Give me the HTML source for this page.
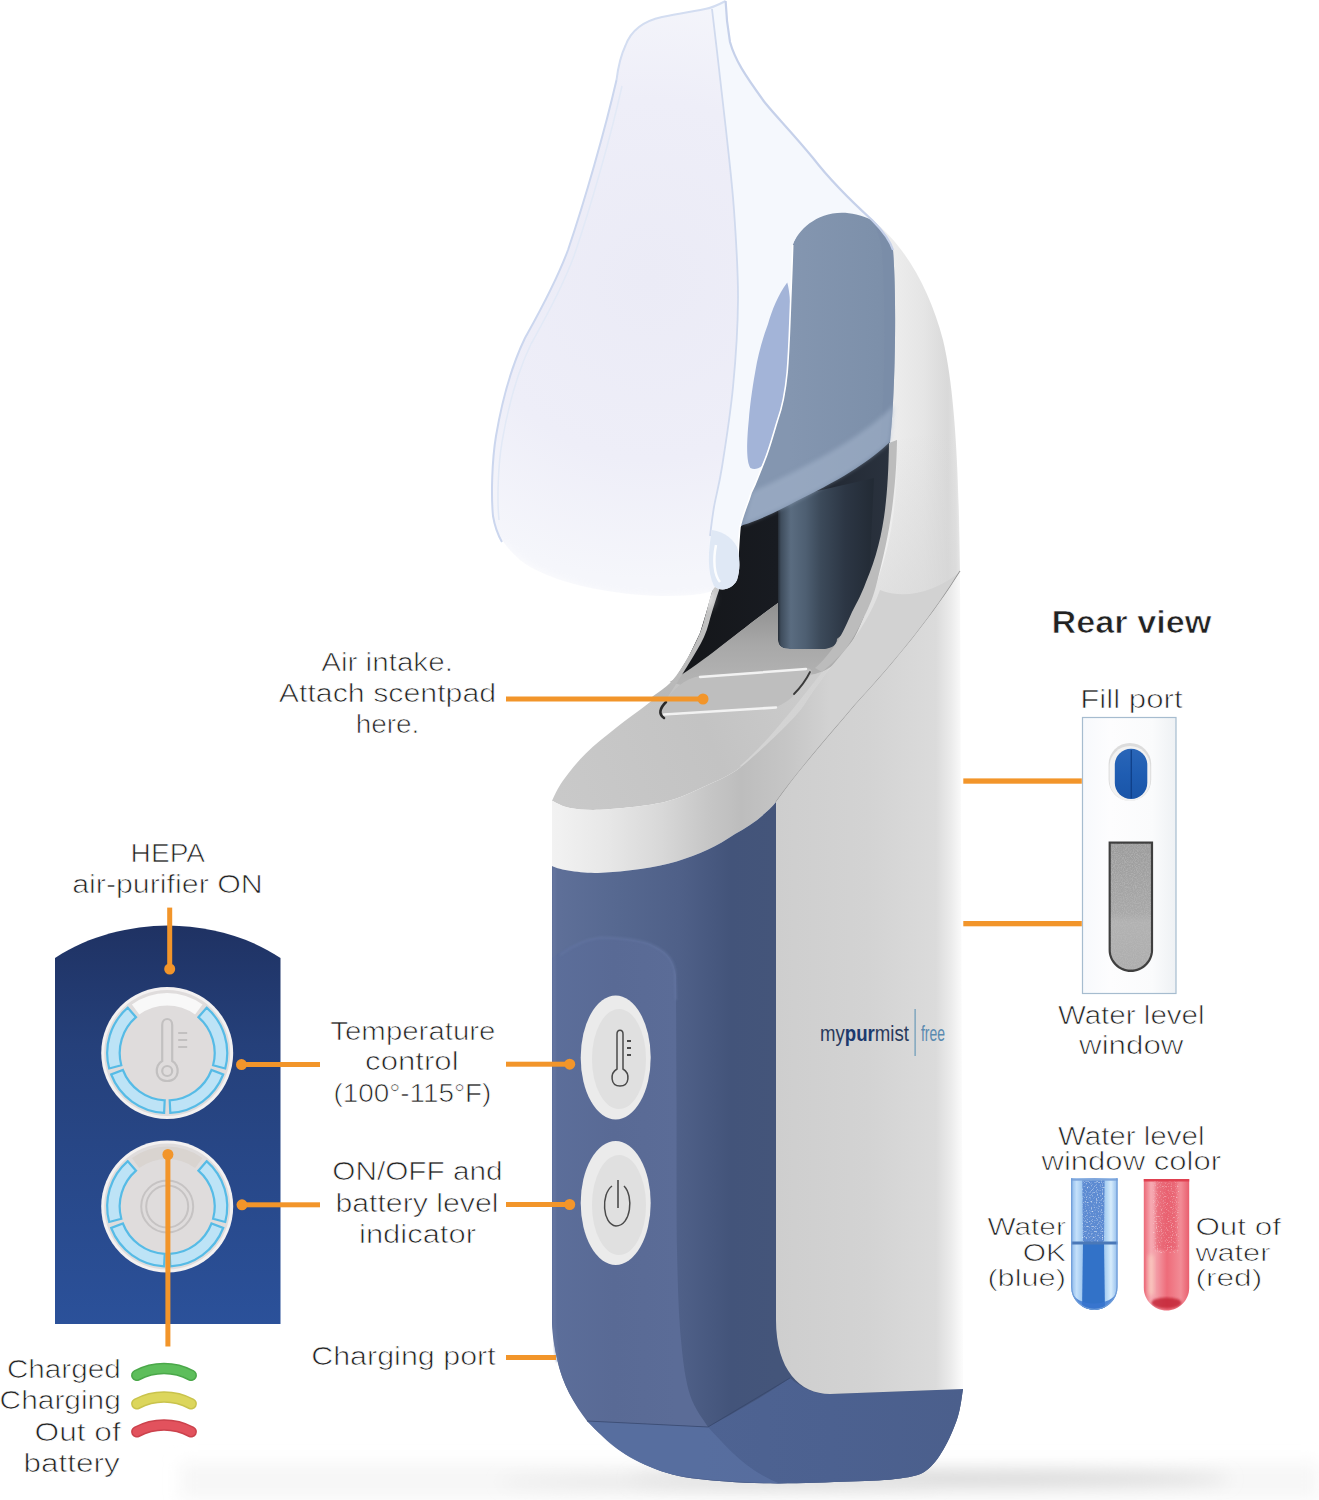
<!DOCTYPE html>
<html><head><meta charset="utf-8">
<style>
html,body{margin:0;padding:0;background:#fff;width:1319px;height:1500px;overflow:hidden}
svg{position:absolute;left:0;top:0;display:block}
.t{font-family:"Liberation Sans",sans-serif;font-size:25px;fill:#222;stroke:#fff;stroke-width:0.7px}
</style></head><body>
<svg width="1319" height="1500" viewBox="0 0 1319 1500">
<defs>
  <filter id="b1" x="-10%" y="-10%" width="120%" height="120%"><feGaussianBlur stdDeviation="1"/></filter>
  <filter id="b2" x="-20%" y="-20%" width="140%" height="140%"><feGaussianBlur stdDeviation="2"/></filter>
  <filter id="b4" x="-30%" y="-30%" width="160%" height="160%"><feGaussianBlur stdDeviation="4"/></filter>
  <filter id="b8" x="-30%" y="-100%" width="160%" height="300%"><feGaussianBlur stdDeviation="8"/></filter>
  <filter id="b15" x="-50%" y="-50%" width="200%" height="200%"><feGaussianBlur stdDeviation="15"/></filter>
  <linearGradient id="gShell" x1="776" y1="0" x2="962" y2="0" gradientUnits="userSpaceOnUse">
    <stop offset="0" stop-color="#cecece"/>
    <stop offset="0.5" stop-color="#d3d3d3"/>
    <stop offset="0.86" stop-color="#dbdbdb"/>
    <stop offset="0.94" stop-color="#ebebeb"/>
    <stop offset="1" stop-color="#fbfbfb"/>
  </linearGradient>
  <linearGradient id="gCapUp" x1="800" y1="0" x2="960" y2="0" gradientUnits="userSpaceOnUse">
    <stop offset="0" stop-color="#d8d8d8"/>
    <stop offset="0.5" stop-color="#e6e6e6"/>
    <stop offset="0.85" stop-color="#dadada"/>
    <stop offset="0.95" stop-color="#e2e2e2"/>
    <stop offset="1" stop-color="#f3f3f3"/>
  </linearGradient>
  <linearGradient id="gBlue" x1="552" y1="0" x2="776" y2="0" gradientUnits="userSpaceOnUse">
    <stop offset="0" stop-color="#5f7099"/>
    <stop offset="0.3" stop-color="#566890"/>
    <stop offset="0.57" stop-color="#4f6088"/>
    <stop offset="0.8" stop-color="#43547a"/>
    <stop offset="1" stop-color="#44557a"/>
  </linearGradient>
  <linearGradient id="gFace" x1="552" y1="0" x2="676" y2="0" gradientUnits="userSpaceOnUse">
    <stop offset="0" stop-color="#5c6e9a"/>
    <stop offset="0.5" stop-color="#596a95"/>
    <stop offset="1" stop-color="#5b6c97"/>
  </linearGradient>
  <linearGradient id="gBlueBot" x1="700" y1="0" x2="963" y2="0" gradientUnits="userSpaceOnUse">
    <stop offset="0" stop-color="#4e6392"/>
    <stop offset="0.5" stop-color="#4c6190"/>
    <stop offset="1" stop-color="#4b5f8c"/>
  </linearGradient>
  <linearGradient id="gBand" x1="553" y1="0" x2="830" y2="0" gradientUnits="userSpaceOnUse">
    <stop offset="0" stop-color="#f2f2f2"/>
    <stop offset="0.2" stop-color="#e7e7e7"/>
    <stop offset="0.39" stop-color="#d8d8d8"/>
    <stop offset="0.56" stop-color="#c6c6c6"/>
    <stop offset="0.68" stop-color="#bdbdbd"/>
    <stop offset="0.85" stop-color="#c6c6c6"/>
    <stop offset="1" stop-color="#d2d2d2"/>
  </linearGradient>
  <linearGradient id="gTop" x1="560" y1="800" x2="860" y2="680" gradientUnits="userSpaceOnUse">
    <stop offset="0" stop-color="#c9c9c9"/>
    <stop offset="0.5" stop-color="#c3c3c3"/>
    <stop offset="1" stop-color="#cfcfcf"/>
  </linearGradient>
  <linearGradient id="gTube" x1="776" y1="0" x2="875" y2="0" gradientUnits="userSpaceOnUse">
    <stop offset="0" stop-color="#14171c"/>
    <stop offset="0.05" stop-color="#3e4c5c"/>
    <stop offset="0.15" stop-color="#5a6c80"/>
    <stop offset="0.3" stop-color="#4e5f72"/>
    <stop offset="0.45" stop-color="#3c4a5a"/>
    <stop offset="0.7" stop-color="#2c3644"/>
    <stop offset="1" stop-color="#222a34"/>
  </linearGradient>
  <linearGradient id="gMaskIn" x1="790" y1="0" x2="900" y2="0" gradientUnits="userSpaceOnUse">
    <stop offset="0" stop-color="#8496b0"/>
    <stop offset="0.8" stop-color="#7d90aa"/>
    <stop offset="1" stop-color="#7a8ca6"/>
  </linearGradient>
  <radialGradient id="gBtn" cx="0.45" cy="0.45" r="0.6">
    <stop offset="0" stop-color="#e4e4e4"/>
    <stop offset="0.8" stop-color="#e0e0e0"/>
    <stop offset="1" stop-color="#eeeeee"/>
  </radialGradient>
  <linearGradient id="gPanel" x1="0" y1="925" x2="0" y2="1325" gradientUnits="userSpaceOnUse">
    <stop offset="0" stop-color="#1f3263"/>
    <stop offset="0.3" stop-color="#25407a"/>
    <stop offset="1" stop-color="#2b519a"/>
  </linearGradient>
  <linearGradient id="gTubeB" x1="1071" y1="0" x2="1118" y2="0" gradientUnits="userSpaceOnUse">
    <stop offset="0" stop-color="#88b6ea"/>
    <stop offset="0.12" stop-color="#c4e0fa"/>
    <stop offset="0.22" stop-color="#a6ccf2"/>
    <stop offset="0.5" stop-color="#5d8bd2"/>
    <stop offset="0.75" stop-color="#b0d4f4"/>
    <stop offset="0.85" stop-color="#d6ecfc"/>
    <stop offset="1" stop-color="#8cb8ea"/>
  </linearGradient>
  <linearGradient id="gTubeR" x1="1144" y1="0" x2="1190" y2="0" gradientUnits="userSpaceOnUse">
    <stop offset="0" stop-color="#ec6a78"/>
    <stop offset="0.15" stop-color="#f6aab2"/>
    <stop offset="0.28" stop-color="#f39aa4"/>
    <stop offset="0.5" stop-color="#ee6c7a"/>
    <stop offset="0.8" stop-color="#f28c96"/>
    <stop offset="1" stop-color="#e85a6a"/>
  </linearGradient>
  <linearGradient id="gFloor" x1="0" y1="600" x2="0" y2="690" gradientUnits="userSpaceOnUse">
    <stop offset="0" stop-color="#8e8e8e"/>
    <stop offset="0.5" stop-color="#a8a8a8"/>
    <stop offset="1" stop-color="#b6b6b6"/>
  </linearGradient>
  <linearGradient id="gShellUp" x1="880" y1="0" x2="960" y2="0" gradientUnits="userSpaceOnUse">
    <stop offset="0" stop-color="#f0f0f0"/>
    <stop offset="0.55" stop-color="#e5e5e5"/>
    <stop offset="0.85" stop-color="#d9d9d9"/>
    <stop offset="0.95" stop-color="#e2e2e2"/>
    <stop offset="1" stop-color="#f3f3f3"/>
  </linearGradient>
  <linearGradient id="gCapV" x1="0" y1="430" x2="0" y2="800" gradientUnits="userSpaceOnUse">
    <stop offset="0" stop-color="#d6d6d6" stop-opacity="0"/>
    <stop offset="0.45" stop-color="#d6d6d6" stop-opacity="0.6"/>
    <stop offset="1" stop-color="#d6d6d6" stop-opacity="0.9"/>
  </linearGradient>
  <linearGradient id="gRearBox" x1="1082" y1="0" x2="1176" y2="0" gradientUnits="userSpaceOnUse">
    <stop offset="0" stop-color="#f7f9fc"/>
    <stop offset="0.3" stop-color="#fdfdfe"/>
    <stop offset="0.75" stop-color="#fafbfc"/>
    <stop offset="1" stop-color="#eef1f4"/>
  </linearGradient>
  <linearGradient id="gPort" x1="0" y1="748" x2="0" y2="799" gradientUnits="userSpaceOnUse">
    <stop offset="0" stop-color="#2a66b8"/>
    <stop offset="0.5" stop-color="#1f5db2"/>
    <stop offset="1" stop-color="#1a55a8"/>
  </linearGradient>
  <linearGradient id="gWin" x1="0" y1="844" x2="0" y2="970" gradientUnits="userSpaceOnUse">
    <stop offset="0" stop-color="#9c9c9c"/>
    <stop offset="0.55" stop-color="#a8a8a8"/>
    <stop offset="0.62" stop-color="#b2b2b2"/>
    <stop offset="1" stop-color="#adadad"/>
  </linearGradient>
  <filter id="speck" x="0" y="0" width="100%" height="100%">
    <feTurbulence type="fractalNoise" baseFrequency="0.9" numOctaves="2" seed="3" result="n"/>
    <feColorMatrix in="n" type="matrix" values="0 0 0 0 0.5  0 0 0 0 0.5  0 0 0 0 0.5  0 0 0 3 -1.2" result="m"/>
    <feComposite in="m" in2="SourceGraphic" operator="in"/>
  </filter>
  <linearGradient id="gRimL" x1="0" y1="575" x2="0" y2="697" gradientUnits="userSpaceOnUse">
    <stop offset="0" stop-color="#c6c6c6"/>
    <stop offset="0.6" stop-color="#bdbdbd"/>
    <stop offset="1" stop-color="#b8b8b8"/>
  </linearGradient>
  <linearGradient id="gChamber" x1="700" y1="0" x2="890" y2="0" gradientUnits="userSpaceOnUse">
    <stop offset="0" stop-color="#15171b"/>
    <stop offset="0.4" stop-color="#181b21"/>
    <stop offset="0.75" stop-color="#242b36"/>
    <stop offset="1" stop-color="#2a323e"/>
  </linearGradient>
  <radialGradient id="gMask" cx="650" cy="280" r="300" gradientUnits="userSpaceOnUse">
    <stop offset="0" stop-color="#ebebf6"/>
    <stop offset="0.6" stop-color="#eeeef8"/>
    <stop offset="1" stop-color="#f5f6fb"/>
  </radialGradient>
  <filter id="speck2" x="0" y="0" width="100%" height="100%">
    <feTurbulence type="fractalNoise" baseFrequency="0.8" numOctaves="1" seed="7" result="n"/>
    <feColorMatrix in="n" type="matrix" values="0 0 0 0 1  0 0 0 0 1  0 0 0 0 1  0 0 0 4 -2.2" result="m"/>
    <feComposite in="m" in2="SourceGraphic" operator="in"/>
  </filter>
</defs>
<g id="device">
  <!-- floor shadow -->
  <path d="M180,1462 L1319,1462 L1319,1500 L180,1500 Z" fill="#f7f7f7" filter="url(#b8)"/>
  <ellipse cx="930" cy="1479" rx="300" ry="7" fill="#d6d6d6" filter="url(#b8)"/>
  <ellipse cx="720" cy="1482" rx="220" ry="6" fill="#e6e6e6" filter="url(#b8)"/>
  <!-- shell right part -->
  <path d="M872,220 C905,245 930,290 943,340 C955,390 959,470 960,575 C935,612 895,662 855,705 C830,735 800,768 776,802 L740,766 L822,672 L880,445 L880,250 Z" fill="url(#gShellUp)"/>
  <!-- top surface (base, generous) -->
  <path d="M552.0,800.7 C553.8,797.4 557.1,788.8 562.7,781.0 C568.3,773.2 576.6,762.5 585.5,753.7 C594.4,744.9 605.7,736.1 615.8,728.0 C625.9,719.9 636.6,712.5 646.0,705.2 C655.4,697.9 665.0,691.9 672.0,684.0 C679.0,676.1 683.3,666.5 688.0,658.0 C692.7,649.5 696.9,640.7 700.0,633.0 C703.1,625.3 704.4,618.8 706.4,612.0 C708.4,605.2 709.7,598.2 712.0,592.0 C714.3,585.8 718.7,577.8 720.0,575.0 L740,540 L897,440 L877,582 L826.8,672 C824.3,675.6 816.6,686.3 811.6,693.4 C806.6,700.5 804.1,706.0 796.5,714.6 C788.9,723.2 776.1,735.6 766.0,745.0 C755.9,754.4 745.9,763.9 735.8,770.7 C725.7,777.5 715.6,781.2 705.5,785.9 C695.4,790.6 684.9,795.8 675.0,799.0 C665.1,802.2 658.5,803.5 646.0,805.3 C633.5,807.1 612.7,809.3 600.0,809.8 C587.3,810.2 578.0,809.5 570.0,808.0 C562.0,806.5 555.0,801.9 552.0,800.7 Z" fill="url(#gTop)"/>
  <!-- cap shading near rim -->
  <path d="M897,440 C898,500 892,540 877,582 C868,610 855,632 845,650 C835,662 828,668 822,672 C800,700 770,740 740,766 L776,802 C800,768 830,735 855,705 C895,662 935,612 960,575 C959,520 958,470 955,430 Z" fill="url(#gCapV)"/>
  <!-- chamber dark -->
  <path d="M720,575 L739,525 L890,440 C889,500 884,530 876.5,560 C872,590 868,605 862.7,619 L837,639 L778,603 C740,630 700,665 672,684 L688,658 L700,633 L706.4,612 L712,592 Z" fill="url(#gChamber)"/>
  <!-- tube -->
  <path d="M778,500 L874,478 L868,604 C858,618 848,630 837,639 L837,642 C835,648 830,649 825,649 L790,649 C782,649 778,646 778,640 Z" fill="url(#gTube)"/>
  <!-- floor -->
  <path d="M669.6,682 C700,665 740,630 778,603 L778,640 C778,646 782,649 790,649 L825,649 C832,648 837,645 837,639 L864,616 C855,640 845,655 835,664 C828,669 822,672 815,674 L700,690 Z" fill="url(#gFloor)"/>
  <!-- right rim band -->
  <path d="M889,443 C888,500 884,540 866,582 C860,598 855,606 852,612 C845,628 840,638 835,645 C828,655 822,662 815,668 L822,672 C830,665 838,658 845,650 C852,640 858,630 863,619 C870,605 874,595 877,582 C888,540 896,500 897,440 Z" fill="#bcbcbc"/>
  <!-- left rim band -->
  <path d="M720.0,575.0 C718.7,577.8 714.3,585.8 712.0,592.0 C709.7,598.2 708.4,605.2 706.4,612.0 C704.4,618.8 703.1,625.5 700.0,633.0 C696.9,640.5 692.7,649.0 688.0,657.0 C683.3,665.0 678.0,674.3 672.0,681.0 C666.0,687.7 655.3,694.3 652.0,697.0 L668,697 C671.3,691.7 682.0,675.0 688.0,665.0 C694.0,655.0 700.0,645.8 704.0,637.0 C708.0,628.2 709.6,619.5 712.0,612.0 C714.4,604.5 716.1,598.2 718.4,592.0 C720.7,585.8 724.7,577.8 726.0,575.0 Z" fill="url(#gRimL)"/>
  <!-- scent pad -->
  <path d="M664,703 C672,690 685,678 700,676 L806,668.4 C812,668 813,672 810,676 C800,690 790,702 776,707 L668,716 C660,717 658,710 664,703 Z" fill="#bebebe"/>
  <path d="M700,677 L806,669" fill="none" stroke="#f2f2f2" stroke-width="2.5" stroke-linecap="round"/>
  <path d="M664,714.5 L776,707.5" fill="none" stroke="#f2f2f2" stroke-width="2.5" stroke-linecap="round"/>
  <path d="M666,702 C660,708 658,714 664,718" fill="none" stroke="#2a2a2a" stroke-width="2.6" stroke-linecap="round"/>
  <path d="M810,672 C806,680 800,688 794,694" fill="none" stroke="#3a3a3a" stroke-width="1.8" stroke-linecap="round"/>
  <!-- white front band -->
  <path d="M552.0,800.7 C555.0,801.9 562.0,806.5 570.0,808.0 C578.0,809.5 587.3,810.2 600.0,809.8 C612.7,809.3 633.5,807.1 646.0,805.3 C658.5,803.5 665.1,802.2 675.0,799.0 C684.9,795.8 695.4,790.6 705.5,785.9 C715.6,781.2 725.7,777.5 735.8,770.7 C745.9,763.9 755.9,754.4 766.0,745.0 C776.1,735.6 788.9,723.2 796.5,714.6 C804.1,706.0 806.6,700.5 811.6,693.4 C816.6,686.3 824.3,675.6 826.8,672.0 L845,650 C860,632 872,612 880,590 C905,600 935,592 960,572 C935,612 895,662 855,705 C830,735 800,768 776,802 C765,815 750,826 735,834 C700,858 660,870 598,873 C580,873 560,870 552,866 Z" fill="url(#gBand)"/>
  <!-- seam line -->
  <path d="M960,571 C935,612 895,662 855,705 C830,735 800,768 776,802" fill="none" stroke="#8c8c8c" stroke-width="1.1" opacity="0.85"/>
  <!-- blue body -->
  <path d="M552,866 C560,870 580,873 598,873 C660,870 700,858 735,834 C750,826 765,815 776,802 L776,1300 L820,1300 L963,1389 C962.1,1393.8 960.9,1407.4 957.6,1417.5 C954.3,1427.6 948.7,1440.7 943.4,1449.6 C938.1,1458.5 932.8,1466.2 925.6,1471.0 C918.4,1475.8 912.5,1476.7 900.0,1478.5 C887.5,1480.3 870.8,1480.8 850.7,1481.6 C830.6,1482.4 800.3,1483.4 779.5,1483.4 C758.7,1483.4 743.8,1483.1 726.0,1481.6 C708.2,1480.1 688.6,1478.7 672.6,1474.5 C656.6,1470.3 641.7,1463.3 629.8,1456.7 C617.9,1450.1 609.6,1442.8 601.3,1435.0 C593.0,1427.2 586.0,1418.3 580.0,1410.0 C574.0,1401.7 569.5,1394.2 565.6,1385.4 C561.7,1376.6 559.0,1367.7 556.7,1357.0 C554.4,1346.3 552.8,1327.0 552.0,1321.0 Z" fill="url(#gBlue)"/>
  <path d="M552,958 C570,945 585,939 600,937.6 C625,938 645,941 654,946 C664,951 672,957 674.8,970 L676,975 C676.1,995.8 676.3,1054.2 676.5,1100.0 C676.7,1145.8 676.2,1210.0 677.0,1250.0 C677.8,1290.0 678.8,1315.8 681.0,1340.0 C683.2,1364.2 685.5,1380.5 690.0,1395.0 C694.5,1409.5 705.0,1421.7 708.0,1427.0 L587,1421 C575,1405 562,1385 556.7,1357 C553,1340 552,1330 552,1321 Z" fill="url(#gFace)"/>
  <path d="M560,955 C575,944 590,939 600,937.6 C625,938 645,941 654,946 C664,951 672,957 674.8,970 L676,1000" fill="none" stroke="#6678a4" stroke-width="2" opacity="0.6" filter="url(#b1)"/>
  <path d="M587,1421 L708,1427 C740,1410 770,1392 790,1378 C805,1390 815,1394 830,1394 L963,1389 C962.1,1393.8 960.9,1407.4 957.6,1417.5 C954.3,1427.6 948.7,1440.7 943.4,1449.6 C938.1,1458.5 932.8,1466.2 925.6,1471.0 C918.4,1475.8 912.5,1476.7 900.0,1478.5 C887.5,1480.3 870.8,1480.8 850.7,1481.6 C830.6,1482.4 800.3,1483.4 779.5,1483.4 C758.7,1483.4 743.8,1483.1 726.0,1481.6 C708.2,1480.1 688.6,1478.7 672.6,1474.5 C656.6,1470.3 641.7,1463.3 629.8,1456.7 C617.9,1450.1 608.4,1441.0 601.3,1435.0 C594.2,1429.0 589.4,1423.3 587.0,1421.0 Z" fill="url(#gBlueBot)"/>
  <path d="M587,1421 L708,1427 C725,1445 745,1470 779.5,1483.4 C740,1482 700,1480 672.6,1474.5 C640,1466 615,1450 601.3,1435 Z" fill="#5b71a3" opacity="0.75"/>
  <!-- side panel (white shell lower) -->
  <path d="M776,802 C800,768 830,735 855,705 C895,662 935,612 960,572 L963,1389 L830,1394 C800,1394 776,1370 776,1320 Z" fill="url(#gShell)"/>
  <path d="M554,868 L554,1321 C554.5,1340 556,1352 558,1362" fill="none" stroke="#6b7ca6" stroke-width="3" opacity="0.55" filter="url(#b1)"/>
  <!-- seam lines on blue -->
  <path d="M587,1421 L708,1427 L790,1378" fill="none" stroke="#34456a" stroke-width="1" opacity="0.7"/>
  <!-- buttons -->
  <ellipse cx="615.7" cy="1057.5" rx="35" ry="62" fill="#ebebeb"/>
  <ellipse cx="619" cy="1059" rx="27" ry="50" fill="#e0e0e0"/>
  <ellipse cx="615.7" cy="1203" rx="35" ry="62" fill="#ebebeb"/>
  <ellipse cx="619" cy="1205" rx="27" ry="50" fill="#e0e0e0"/>
  <!-- thermometer icon -->
  <path d="M617,1034 C617,1029 623,1029 623,1034 L623,1069 C630,1073 630,1086 620,1086 C610,1086 610,1073 617,1069 Z" fill="none" stroke="#4a4a4a" stroke-width="1.5"/>
  <path d="M627,1041 h4 M627,1048 h4 M627,1055 h4" stroke="#4a4a4a" stroke-width="2.2"/>
  <!-- power icon -->
  <path d="M612,1186 C601,1194 602,1224 616,1226 C631,1226 634,1196 624,1186" fill="none" stroke="#4a4a4a" stroke-width="1.5"/>
  <path d="M618,1180 L618,1208" stroke="#4a4a4a" stroke-width="1.6"/>
  <!-- logo -->
  <g font-family="Liberation Sans, sans-serif">
    <text x="820" y="1041" font-size="22" fill="#2a3a5c" textLength="89" lengthAdjust="spacingAndGlyphs"><tspan>my</tspan><tspan font-weight="700" fill="#1c3a6e">pur</tspan><tspan>mist</tspan></text>
    <rect x="914.5" y="1009" width="1.2" height="47" fill="#6a9ab8"/>
    <text x="921" y="1041" font-size="22" fill="#5a8ab0" textLength="24" lengthAdjust="spacingAndGlyphs">free</text>
  </g>
  <!-- ===== MASK ===== -->
  <path d="M725.6,1 C718,5 712,8 705,9 C690,12 672,15 662,17 C648,20 632,28 625.5,45.5 C620,57 618,68 616.5,80 C605,130 585,200 568,250 C555,285 535,320 525,338 C512,365 503,395 496,436 C492,460 491,495 493,516 C496,532 503,545 520,560 C545,580 600,594 660,596 C690,596 705,594 712,591 L738,556 C738.5,547 739,537 740,527 C742,518 745,510 748.8,500 C750,495 752,490 755.2,484 C758,477 761,470 764.8,460 C769,450 773,435 777.6,420 C782,408 785,395 787.2,372 C789,350 789.5,330 790.4,308 C791,290 792,270 792.7,245 C800,225 830,200 872,220 C850,200 830,180 813,158 C790,130 770,110 763,100 C745,75 735,60 730,42 C727,25 726,12 725.6,1 Z" fill="url(#gMask)"/>
  <!-- soft bottom fade -->
  <path d="M500,540 C520,565 560,585 620,594 C660,598 700,596 712,591 L712,605 C650,612 560,600 505,560 Z" fill="#ffffff" opacity="0.7" filter="url(#b4)"/>
  <!-- blue-grey inner -->
  <path d="M792.7,245 C800,225 815,210 839,208 C860,207 880,220 893,250 C897,300 895,400 890,442 C870,460 850,475 796.7,501 C780,510 760,520 743,525 L740,527 C742,518 745,510 748.8,500 C750,495 752,490 755.2,484 C758,477 761,470 764.8,460 C769,450 773,435 777.6,420 C782,408 785,395 787.2,372 C789,350 789.5,330 790.4,308 C791,290 792,270 792.7,245 Z" fill="url(#gMaskIn)"/>
  <path d="M868,216 C880,225 890,240 893,250 C897,300 895,400 890,442 L880,448 C885,400 886,300 882,250 C880,235 874,222 868,216 Z" fill="#7a8ca8" opacity="0.6"/>
  <path d="M743,525 C780,510 850,478 890,442 L894,405 C860,440 800,470 752,492 Z" fill="#a9b9d0" opacity="0.5" filter="url(#b2)"/>
  <!-- lip band -->
  <path d="M712.0,9.0 C713.0,17.5 715.7,39.8 718.0,60.0 C720.3,80.2 723.3,105.0 726.0,130.0 C728.7,155.0 732.0,181.7 734.0,210.0 C736.0,238.3 738.2,270.5 738.0,300.0 C737.8,329.5 735.7,359.2 733.0,387.0 C730.3,414.8 725.2,447.0 722.0,467.0 C718.8,487.0 716.0,495.5 714.0,507.0 C712.0,518.5 710.7,531.2 710.0,536.0 C708,556 708,575 714,586 C720,592 732,590 737,580 C740,570 740,562 738,556 C738.5,547 739,537 740,527 C742,518 745,510 748.8,500 C750,495 752,490 755.2,484 C758,477 761,470 764.8,460 C769,450 773,435 777.6,420 C782,408 785,395 787.2,372 C789,350 789.5,330 790.4,308 C791,290 792,270 792.7,245 C800,225 830,200 872,220 C850,200 830,180 813,158 C790,130 770,110 763,100 C745,75 735,60 730,42 C727,25 726,12 725.6,1 C720,4 716,6 712,9 Z" fill="#f5f8fd"/>
  <!-- lobe -->
  <path d="M787.2,282.4 C778,295 772,310 768,324 C762,340 758,355 755.2,372 C752,390 750,405 748.8,420 C747.5,432 747,445 747.2,452 C747.5,460 748.5,465 750.4,468 C754,470 758,469 762,466 C769,450 773,435 777.6,420 C782,408 785,395 787.2,372 C789,350 789.5,330 790.4,308 C790,298 789,288 787.2,282.4 Z" fill="#a3b4d8"/>
  <!-- line L highlight -->
  <path d="M792.7,245 C792,270 791,290 790.4,308 C789.5,330 789,350 787.2,372 C785,395 782,408 777.6,420 C773,435 769,450 764.8,460 C761,470 758,477 755.2,484 C752,490 750,495 748.8,500 C745,510 742,518 740,527 C739,537 738.5,547 738,556" fill="none" stroke="#ffffff" stroke-width="1.6"/>
  <!-- lip bulb -->
  <path d="M712,530 C708,550 707,572 714,586 C720,592 732,590 737,580 C740,570 740,560 738,550 C735,540 725,532 712,530 Z" fill="#dfe8f5"/>
  <path d="M716,545 C713,560 714,575 720,582" fill="none" stroke="#ffffff" stroke-width="2.5" opacity="0.9"/>
  <!-- mask outline -->
  <path d="M616.5,80 C605,130 585,200 568,250 C555,285 535,320 525,338 C512,365 503,395 496,436 C492,460 491,495 493,516 C495,528 498,535 502,542" fill="none" stroke="#cbd6ee" stroke-width="2"/>
  <path d="M622,86 C611,136 591,206 574,256 C561,291 541,326 531,344 C518,371 509,401 502,442 C498,466 497,500 499,520" fill="none" stroke="#e2e9f6" stroke-width="1.5"/>
  <path d="M725.6,1 C718,5 712,8 705,9 C690,12 672,15 662,17 C648,20 632,28 625.5,45.5 C620,57 618,68 616.5,80" fill="none" stroke="#d3ddf1" stroke-width="2"/>
  <!-- rim outer -->
  <path d="M725.6,1 C726,12 727,25 730,42 C735,60 745,75 763,100 C770,110 790,130 813,158 C830,180 850,200 872,220 C882,230 890,240 893,250" fill="none" stroke="#c6d1ea" stroke-width="2.2"/>
  <!-- rim inner line -->
  <path d="M712.0,9.0 C713.0,17.5 715.7,39.8 718.0,60.0 C720.3,80.2 723.3,105.0 726.0,130.0 C728.7,155.0 732.0,181.7 734.0,210.0 C736.0,238.3 738.2,270.5 738.0,300.0 C737.8,329.5 735.7,359.2 733.0,387.0 C730.3,414.8 725.2,447.0 722.0,467.0 C718.8,487.0 716.0,495.5 714.0,507.0 C712.0,518.5 710.7,531.2 710.0,536.0" fill="none" stroke="#d0daee" stroke-width="1.8"/>
</g><g id="inset">
<path d="M55,958 C90,935 130,926 168,925.5 C206,926 246,935 280.5,958 L280.5,1324 L55,1324 Z" fill="url(#gPanel)"/>
<circle cx="167.2" cy="1053" r="66" fill="#f3f1f1"/>
<circle cx="167.2" cy="1053" r="63" fill="#dfdcdc"/>
<path d="M109.2,1068.5 A60,60 0 0 1 127.8,1007.7 L136.0,1017.2 A47.5,47.5 0 0 0 121.3,1065.3 Z M206.6,1007.7 A60,60 0 0 1 225.2,1068.5 L213.1,1065.3 A47.5,47.5 0 0 0 198.4,1017.2 Z M164.1,1112.9 A60,60 0 0 1 111.2,1074.5 L122.9,1070.0 A47.5,47.5 0 0 0 164.7,1100.4 Z M223.2,1074.5 A60,60 0 0 1 170.3,1112.9 L169.7,1100.4 A47.5,47.5 0 0 0 211.5,1070.0 Z" fill="#bde3f6" stroke="#56bbe6" stroke-width="2.2"/>
<path d="M131.9,1004.5 A60,60 0 0 1 202.5,1004.5 L195.1,1014.6 A47.5,47.5 0 0 0 139.3,1014.6 Z" fill="#f8f8f8"/>
<circle cx="167.2" cy="1206.5" r="66" fill="#f3f1f1"/>
<circle cx="167.2" cy="1206.5" r="63" fill="#dfdcdc"/>
<path d="M109.2,1222.0 A60,60 0 0 1 127.8,1161.2 L136.0,1170.7 A47.5,47.5 0 0 0 121.3,1218.8 Z M206.6,1161.2 A60,60 0 0 1 225.2,1222.0 L213.1,1218.8 A47.5,47.5 0 0 0 198.4,1170.7 Z M164.1,1266.4 A60,60 0 0 1 111.2,1228.0 L122.9,1223.5 A47.5,47.5 0 0 0 164.7,1253.9 Z M223.2,1228.0 A60,60 0 0 1 170.3,1266.4 L169.7,1253.9 A47.5,47.5 0 0 0 211.5,1223.5 Z" fill="#bde3f6" stroke="#56bbe6" stroke-width="2.2"/>
<path d="M131.9,1158.0 A60,60 0 0 1 202.5,1158.0 L195.1,1168.1 A47.5,47.5 0 0 0 139.3,1168.1 Z" fill="#d9d4d0"/>
<g fill="none" stroke="#c2c0c0" stroke-width="2.2"><path d="M162.2,1025 C162.2,1017 172.2,1017 172.2,1025 L172.2,1061 C180.2,1065 180.2,1081 167.2,1081 C154.2,1081 154.2,1065 162.2,1061 Z"/><path d="M178.2,1033 h9 M178.2,1040 h9 M178.2,1047 h9"/><circle cx="167.2" cy="1071" r="5"/></g>
<g fill="none" stroke="#c6c3c3" stroke-width="2"><circle cx="167.2" cy="1206.5" r="26"/><circle cx="167.2" cy="1206.5" r="21"/></g>
<path d="M136.8,1375.3 A58,58 0 0 1 191.2,1375.3" fill="none" stroke="#4ba84a" stroke-width="11.5" stroke-linecap="round"/><path d="M136.8,1375.3 A58,58 0 0 1 191.2,1375.3" fill="none" stroke="#5dbe5b" stroke-width="8.5" stroke-linecap="round"/>
<path d="M136.8,1403.8 A58,58 0 0 1 191.2,1403.8" fill="none" stroke="#c9c34c" stroke-width="11.5" stroke-linecap="round"/><path d="M136.8,1403.8 A58,58 0 0 1 191.2,1403.8" fill="none" stroke="#dcd65c" stroke-width="8.5" stroke-linecap="round"/>
<path d="M136.8,1431.8 A58,58 0 0 1 191.2,1431.8" fill="none" stroke="#cb424c" stroke-width="11.5" stroke-linecap="round"/><path d="M136.8,1431.8 A58,58 0 0 1 191.2,1431.8" fill="none" stroke="#e2525d" stroke-width="8.5" stroke-linecap="round"/>
</g>
<g id="rear">
  <rect x="1082.5" y="717.5" width="93.5" height="276" fill="url(#gRearBox)" stroke="#a6bccf" stroke-width="1.2"/>
  <!-- fill port recess -->
  <rect x="1108.6" y="742.9" width="42.6" height="58" rx="21.3" fill="#dcdcdc"/>
  <rect x="1109.6" y="746" width="40.6" height="55" rx="20.3" fill="#f2f2f2"/>
  <rect x="1114.8" y="748.7" width="32.5" height="50.2" rx="16.2" fill="url(#gPort)"/>
  <rect x="1130.6" y="750" width="1.4" height="48" fill="#0d3c84" opacity="0.85"/>
  <!-- water window -->
  <path d="M1108.6,841.5 L1153.1,841.5 L1153.1,950 C1153.1,962 1143,972 1130.8,972 C1118.6,972 1108.6,962 1108.6,950 Z" fill="#3f3f3f"/>
  <path d="M1110.8,843.8 L1150.9,843.8 L1150.9,950 C1150.9,960.5 1142,969.6 1130.8,969.6 C1119.6,969.6 1110.8,960.5 1110.8,950 Z" fill="url(#gWin)"/>
  <path d="M1110.8,843.8 L1150.9,843.8 L1150.9,950 C1150.9,960.5 1142,969.6 1130.8,969.6 C1119.6,969.6 1110.8,960.5 1110.8,950 Z" fill="#888" filter="url(#speck)" opacity="0.55"/>
  <!-- tubes -->
  <clipPath id="cTubeB"><path d="M1071.2,1178.2 L1117.5,1178.2 L1117.5,1287 C1117.5,1299 1107,1309.8 1094.3,1309.8 C1081.7,1309.8 1071.2,1299 1071.2,1287 Z"/></clipPath>
  <clipPath id="cTubeR"><path d="M1143.8,1179 L1189.2,1179 L1189.2,1288 C1189.2,1300 1179,1310.5 1166.5,1310.5 C1154,1310.5 1143.8,1300 1143.8,1288 Z"/></clipPath>
  <g clip-path="url(#cTubeB)">
    <rect x="1070" y="1176" width="50" height="136" fill="url(#gTubeB)"/>
    <path d="M1082.3,1180 L1104.6,1180 L1104,1243 L1083,1243 Z" fill="#5d8bd2"/>
    <rect x="1082.3" y="1180" width="22.3" height="63" fill="#9ab8e8" filter="url(#speck2)" opacity="0.7"/>
    <path d="M1083,1243 L1104,1243 L1105,1312 L1082,1312 Z" fill="#3272c8"/>
    <path d="M1071,1290 C1075,1308 1112,1308 1118,1290 L1118,1312 L1071,1312 Z" fill="#3a76d0" opacity="0.8"/>
    <rect x="1071" y="1241.5" width="47" height="3" fill="#4a78b8"/>
    <rect x="1071" y="1178.2" width="47" height="2.5" fill="#7ea6dc"/>
  </g>
  <path d="M1071.7,1178.2 L1071.7,1287 C1071.7,1299 1082,1309.3 1094.3,1309.3 C1106.6,1309.3 1117,1299 1117,1287 L1117,1178.2" fill="none" stroke="#6e9cd8" stroke-width="1.2"/>
  <g clip-path="url(#cTubeR)">
    <rect x="1142" y="1176" width="50" height="136" fill="url(#gTubeR)"/>
    <path d="M1155.5,1181 L1176.8,1181 L1176.8,1250 L1155.5,1250 Z" fill="#e65a6a" opacity="0.6" filter="url(#b1)"/>
    <rect x="1153" y="1181" width="26" height="72" fill="#f6b0b8" filter="url(#speck2)" opacity="0.45"/>
    <path d="M1150,1280 L1152,1270 L1156,1282 Z" fill="#fff" opacity="0"/>
    <ellipse cx="1166.5" cy="1303" rx="15" ry="5.5" fill="#c42638" opacity="0.85" filter="url(#b1)"/>
    <rect x="1148" y="1255" width="6" height="40" fill="#fbe0c8" opacity="0.5" filter="url(#b2)"/>
    <rect x="1143" y="1179" width="47" height="2.5" fill="#e04050"/>
  </g>
</g>
<g id="callouts" fill="#f2952a">
  <!-- air intake -->
  <rect x="506" y="696.5" width="197" height="5"/>
  <circle cx="703" cy="699" r="5.5"/>
  <!-- temperature -->
  <rect x="506" y="1061.7" width="64" height="5"/>
  <circle cx="569.7" cy="1064.2" r="5.5"/>
  <!-- on/off -->
  <rect x="506" y="1202" width="64" height="5"/>
  <circle cx="569.7" cy="1204.5" r="5.5"/>
  <!-- charging port -->
  <rect x="506" y="1355" width="50" height="5"/>
  <!-- rear lines -->
  <rect x="963.3" y="778.4" width="118.5" height="5.3"/>
  <rect x="963.3" y="921" width="118.5" height="5.3"/>
  <!-- inset: HEPA vertical -->
  <rect x="167.2" y="907.6" width="5" height="62"/>
  <circle cx="169.7" cy="969" r="5.5"/>
  <!-- inset: temp right -->
  <rect x="241" y="1062" width="79" height="5"/>
  <circle cx="241.5" cy="1064.6" r="5.5"/>
  <!-- inset: power right -->
  <rect x="241" y="1202.3" width="79" height="5"/>
  <circle cx="242" cy="1204.8" r="5.5"/>
  <!-- inset: vertical into button 2 -->
  <rect x="165.4" y="1153.5" width="5" height="193"/>
  <circle cx="167.9" cy="1154.5" r="5.5"/>
</g>
<g class="t">
<text x="321.2" y="670.6" font-size="25" textLength="131.7" lengthAdjust="spacingAndGlyphs">Air intake.</text>
<text x="278.8" y="702" font-size="25" textLength="217.4" lengthAdjust="spacingAndGlyphs">Attach scentpad</text>
<text x="355.7" y="732.6" font-size="25" textLength="63.7" lengthAdjust="spacingAndGlyphs">here.</text>
<text x="130.6" y="861.7" font-size="25" textLength="74.5" lengthAdjust="spacingAndGlyphs">HEPA</text>
<text x="72.2" y="892.5" font-size="25" textLength="190.5" lengthAdjust="spacingAndGlyphs">air-purifier ON</text>
<text x="330.3" y="1039.7" font-size="25" textLength="165.2" lengthAdjust="spacingAndGlyphs">Temperature</text>
<text x="365.1" y="1070.4" font-size="25" textLength="93.5" lengthAdjust="spacingAndGlyphs">control</text>
<text x="333.4" y="1102" font-size="25" textLength="158.0" lengthAdjust="spacingAndGlyphs">(100°-115°F)</text>
<text x="332.3" y="1179.9" font-size="25" textLength="170.3" lengthAdjust="spacingAndGlyphs">ON/OFF and</text>
<text x="335.4" y="1211.6" font-size="25" textLength="163.1" lengthAdjust="spacingAndGlyphs">battery level</text>
<text x="359.0" y="1243.4" font-size="25" textLength="117.0" lengthAdjust="spacingAndGlyphs">indicator</text>
<text x="311.2" y="1365" font-size="25" textLength="184.5" lengthAdjust="spacingAndGlyphs">Charging port</text>
<text x="6.9" y="1377.5" font-size="25" textLength="113.9" lengthAdjust="spacingAndGlyphs">Charged</text>
<text x="-0.4" y="1409" font-size="25" textLength="121.2" lengthAdjust="spacingAndGlyphs">Charging</text>
<text x="34.5" y="1440.5" font-size="25" textLength="86.3" lengthAdjust="spacingAndGlyphs">Out of</text>
<text x="23.6" y="1472" font-size="25" textLength="96.2" lengthAdjust="spacingAndGlyphs">battery</text>
<text x="1051.5" y="632.9" font-size="31" font-weight="700" textLength="159.9" lengthAdjust="spacingAndGlyphs">Rear view</text>
<text x="1080.3" y="708" font-size="25" textLength="102.3" lengthAdjust="spacingAndGlyphs">Fill port</text>
<text x="1057.9" y="1023.7" font-size="25" textLength="146.7" lengthAdjust="spacingAndGlyphs">Water level</text>
<text x="1079.0" y="1054.2" font-size="25" textLength="104.5" lengthAdjust="spacingAndGlyphs">window</text>
<text x="1058.0" y="1144.7" font-size="25" textLength="146.5" lengthAdjust="spacingAndGlyphs">Water level</text>
<text x="1041.5" y="1170.1" font-size="25" textLength="179.5" lengthAdjust="spacingAndGlyphs">window color</text>
<text x="987.4" y="1234.6" font-size="24" textLength="78.5" lengthAdjust="spacingAndGlyphs">Water</text>
<text x="1022.7" y="1260.5" font-size="24" textLength="43.2" lengthAdjust="spacingAndGlyphs">OK</text>
<text x="987.4" y="1286.3" font-size="24" textLength="78.5" lengthAdjust="spacingAndGlyphs">(blue)</text>
<text x="1195.4" y="1234.6" font-size="24" textLength="85.6" lengthAdjust="spacingAndGlyphs">Out of</text>
<text x="1195.4" y="1260.5" font-size="24" textLength="75.0" lengthAdjust="spacingAndGlyphs">water</text>
<text x="1195.4" y="1286.3" font-size="24" textLength="66.8" lengthAdjust="spacingAndGlyphs">(red)</text>
</g>
</svg>
</body></html>
